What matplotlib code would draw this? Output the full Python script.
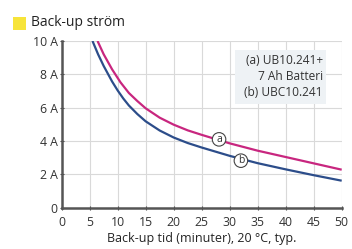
import matplotlib
matplotlib.use("Agg")
import matplotlib.pyplot as plt
from matplotlib.patches import Rectangle

# Data
a_minutes = [6.4, 7.5, 9, 10.5, 12, 13.5, 15, 17.5, 20, 22.5, 25, 30, 35, 40, 45, 50]
a_current = [10, 9.2, 8.3, 7.52, 6.88, 6.4, 5.96, 5.4, 4.98, 4.64, 4.37, 3.86, 3.42, 3.04, 2.66, 2.28]
b_minutes = [5.5, 6.5, 7.5, 9, 10, 11, 12, 13.5, 15, 17.5, 20, 22.5, 25, 30, 35, 40, 45, 50]
b_current = [10, 9.2, 8.5, 7.57, 7.03, 6.55, 6.13, 5.62, 5.18, 4.63, 4.21, 3.88, 3.61, 3.11, 2.67, 2.3, 1.95, 1.62]
x_ticks = [0, 5, 10, 15, 20, 25, 30, 35, 40, 45, 50]
y_ticks = [0, 2, 4, 6, 8, 10]
y_labels = ["0", "2 A", "4 A", "6 A", "8 A", "10 A"]
title = "Back-up ström"
xlabel = "Back-up tid (minuter), 20 °C, typ."
legend_lines = ["(a) UB10.241+", "7 Ah Batteri", "(b) UBC10.241"]

plt.rcParams['font.family'] = ['Open Sans', 'DejaVu Sans']

W, H = 352, 249
fig = plt.figure(figsize=(W / 100, H / 100), dpi=100)
fig.patch.set_facecolor('white')
ax = fig.add_axes([61.7 / W, 1 - 207.7 / H, (341.7 - 61.7) / W, (207.7 - 41) / H])

magenta = '#c8267f'
blue = '#2c4d8a'
ax.plot(a_minutes, a_current, color=magenta, lw=1.6, solid_capstyle='butt', zorder=3)
ax.plot(b_minutes, b_current, color=blue, lw=1.6, solid_capstyle='butt', zorder=3)

ax.set_xlim(0, 50)
ax.set_ylim(0, 10)
ax.set_xticks(x_ticks)
ax.set_yticks(y_ticks)
ax.set_yticklabels(y_labels)
ax.grid(True, color='#d9d9d9', lw=0.8)
ax.set_axisbelow(True)
for s in ['top', 'right']:
    ax.spines[s].set_visible(False)
for s in ['left', 'bottom']:
    ax.spines[s].set_color('#555555')
    ax.spines[s].set_linewidth(1.8)
ax.tick_params(axis='both', direction='inout', length=3, width=0.8, color='#444444',
               labelsize=8.8, labelcolor='#333333', pad=1.5)
ax.tick_params(axis='x', pad=4.5)
ax.set_xlabel(xlabel, fontsize=9, color='#222222', labelpad=2)

# Circled labels
for lab, (x, y) in [('a', (28.1, 4.1)), ('b', (32.0, 2.82))]:
    ax.text(x, y, lab, fontsize=7.5, ha='center', va='center', color='#333333', zorder=5,
            bbox=dict(boxstyle='circle,pad=0.12', fc='white', ec='#444444', lw=0.8))

# Legend box
fig.patches.append(Rectangle((235 / W, 1 - 104 / H), (326 - 235) / W, (104 - 50) / H,
                             transform=fig.transFigure, fc='#eef2f5', ec='none', zorder=2))
for i, t in enumerate(legend_lines):
    yy = [60, 76, 92][i]
    fig.text(323 / W, 1 - yy / H, t, fontsize=8.6, ha='right', va='center', color='#333333',
             zorder=3)

# Title with yellow square
fig.patches.append(Rectangle((13 / W, 1 - 30 / H), 13 / W, 13 / H,
                             transform=fig.transFigure, fc='#f7e43a', ec='none'))
fig.text(31 / W, 1 - 23 / H, title, fontsize=10, ha='left', va='center', color='#222222')

fig.savefig('out.png', dpi=100, facecolor='white')
